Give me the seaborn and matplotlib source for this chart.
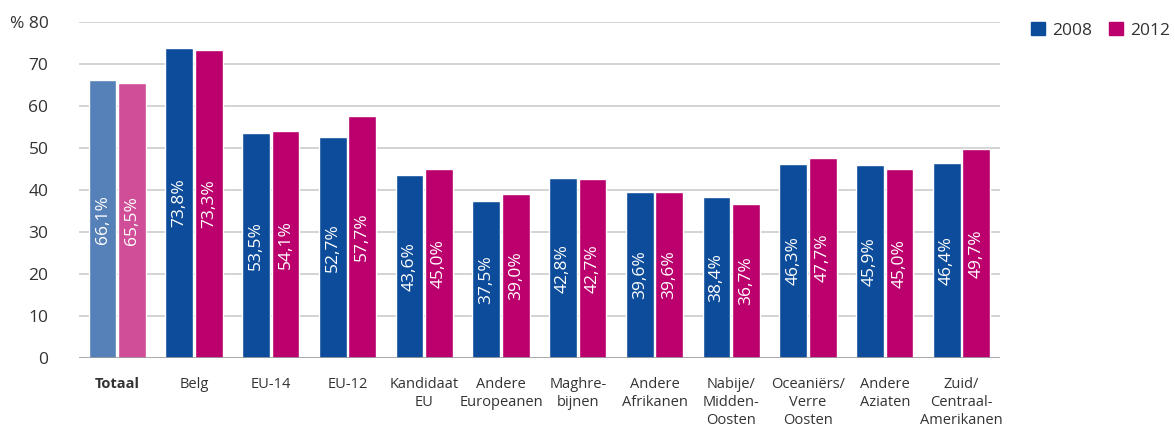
import matplotlib
matplotlib.use("Agg")
import matplotlib.pyplot as plt
import seaborn as sns
import pandas as pd
from matplotlib.patches import Patch

categories = ["Totaal", "Belg", "EU-14", "EU-12", "Kandidaat\nEU", "Andere\nEuropeanen",
              "Maghre-\nbijnen", "Andere\nAfrikanen", "Nabije/\nMidden-\nOosten",
              "Oceaniërs/\nVerre\nOosten", "Andere\nAziaten", "Zuid/\nCentraal-\nAmerikanen"]
values_2008 = [66.1, 73.8, 53.5, 52.7, 43.6, 37.5, 42.8, 39.6, 38.4, 46.3, 45.9, 46.4]
values_2012 = [65.5, 73.3, 54.1, 57.7, 45.0, 39.0, 42.7, 39.6, 36.7, 47.7, 45.0, 49.7]
years = ["2008", "2012"]
yticks = [0, 10, 20, 30, 40, 50, 60, 70, 80]
ytick_labels = ["0", "10", "20", "30", "40", "50", "60", "70", "% 80"]

df = pd.DataFrame({
    "cat": categories * 2,
    "year": [years[0]] * len(categories) + [years[1]] * len(categories),
    "val": values_2008 + values_2012,
})

blue = "#0D4C9A"
pink = "#BB006E"
light_blue = "#5580B8"
light_pink = "#D04E98"

sns.set_theme(style="white")
plt.rcParams["font.family"] = ["Open Sans", "DejaVu Sans"]

fig = plt.figure(figsize=(11.75, 4.29), dpi=100)
ax = fig.add_axes([0.0672, 0.1655, 0.7838, 0.7832])

sns.barplot(data=df, x="cat", y="val", hue="year", palette=[blue, pink],
            width=0.77, gap=0.06, ax=ax, legend=False, saturation=1, zorder=3)

ax.set_ylim(0, 80)
ax.set_xlim(-0.5, len(categories) - 0.5)
ax.set_yticks(yticks)
ax.set_yticklabels(ytick_labels, fontsize=12.5, color="#333333")
ax.tick_params(axis="y", length=0, pad=22)
ax.tick_params(axis="x", length=0, pad=14)
ax.set_xticks(range(len(categories)))
ax.set_xticklabels(categories, fontsize=10.5, color="#333333", linespacing=1.25)
ax.get_xticklabels()[0].set_fontweight("bold")
ax.set_xlabel("")
ax.set_ylabel("")
for y in yticks[1:]:
    ax.axhline(y, color="#CCCCCC", lw=1.2, zorder=1)
ax.axhline(0, color="#999999", lw=1.2, zorder=4)
for s in ax.spines.values():
    s.set_visible(False)

# label bars
containers = ax.containers
for ci, (cont, vals) in enumerate(zip(containers, [values_2008, values_2012])):
    for i, (bar, v) in enumerate(zip(cont, vals)):
        if i == 0:
            bar.set_facecolor(light_blue if ci == 0 else light_pink)
        ax.text(bar.get_x() + bar.get_width() / 2, v / 2,
                f"{v:.1f}%".replace(".", ","), rotation=90, ha="center",
                va="center", color="white", fontsize=12.5, zorder=5)

handles = [Patch(color=blue, label=years[0]), Patch(color=pink, label=years[1])]
fig.legend(handles=handles, loc="upper left", bbox_to_anchor=(0.864, 0.985), ncol=2,
           frameon=False, fontsize=12.5, handlelength=0.8, handleheight=0.8,
           handletextpad=0.4, columnspacing=1.0, labelcolor="#333333")

fig.savefig("out.png", dpi=100)
